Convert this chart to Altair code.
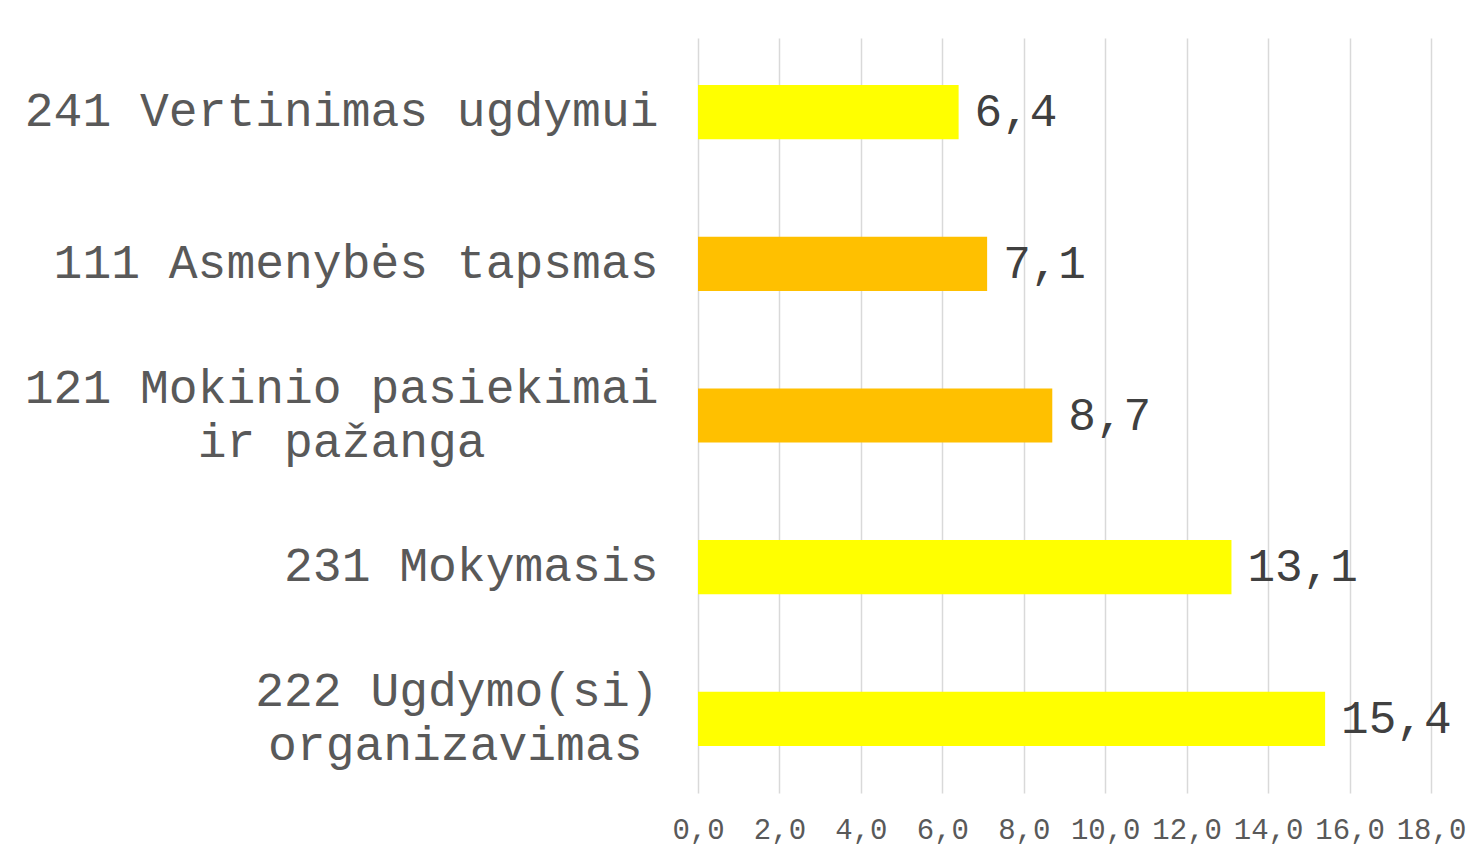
import altair as alt
import pandas as pd

NB = "\u00a0"
WJ = "\u2060"
categories = [
    "241 Vertinimas ugdymui",
    "111 Asmenybės tapsmas",
    "121 Mokinio pasiekimai|ir pažanga" + NB * 6 + WJ,
    "231 Mokymasis",
    "222 Ugdymo(si)|organizavimas" + "\u2004" + WJ,
]
values = [6.4, 7.1, 8.7, 13.1, 15.4]
groups = ["A", "B", "B", "A", "A"]
group_colors = ["#FFFF00", "#FFC000"]
x_ticks = [0, 2, 4, 6, 8, 10, 12, 14, 16, 18]

df = pd.DataFrame({"cat": categories, "value": values, "grp": groups})

FONT = "Liberation Mono"

y_enc = alt.Y(
    "cat:N",
    sort=categories,
    title=None,
    scale=alt.Scale(paddingInner=0.643, paddingOuter=0.31),
    axis=alt.Axis(
        labelExpr="split(datum.label, '|')",
        labelFont=FONT,
        labelFontSize=48,
        labelLineHeight=54,
        labelColor="#595959",
        labelPadding=40,
        labelAlign="right",
        labelBaseline="middle",
        labelOffset={"condition": {"test": "indexof(datum.value, '|') >= 0", "value": -27}, "value": 0},
        ticks=False,
        domain=False,
        grid=False,
        labelLimit=0,
    ),
)

x_enc = alt.X(
    "value:Q",
    title=None,
    scale=alt.Scale(domain=[0, 18], nice=False),
    axis=alt.Axis(
        values=x_ticks,
        labelExpr="replace(format(datum.value, '.1f'), '.', ',')",
        labelFont=FONT,
        labelFontSize=29,
        labelColor="#595959",
        labelPadding=22,
        labelFlush=False,
        ticks=False,
        domain=False,
        grid=True,
        gridColor="#d9d9d9",
        gridWidth=1.5,
        labelOverlap=False,
    ),
)

bars = alt.Chart(df).mark_bar().encode(
    y=y_enc,
    x=x_enc,
    color=alt.Color(
        "grp:N",
        scale=alt.Scale(domain=["A", "B"], range=group_colors),
        legend=None,
    ),
)

labels = alt.Chart(df).transform_calculate(
    lbl="replace(format(datum.value, '.1f'), '.', ',')"
).mark_text(
    align="left", baseline="middle", dx=16, font=FONT, fontSize=46, color="#404040"
).encode(
    y=alt.Y("cat:N", sort=categories),
    x=alt.X("value:Q"),
    text="lbl:N",
)

chart = (
    alt.layer(bars, labels)
    .properties(
        width=733,
        height=755,
        padding={"left": 16, "top": 30, "right": 5, "bottom": 5},
        background="white",
    )
    .configure_view(stroke=None)
)

chart.save("out.html", embed_options={"renderer": "svg", "actions": False})
